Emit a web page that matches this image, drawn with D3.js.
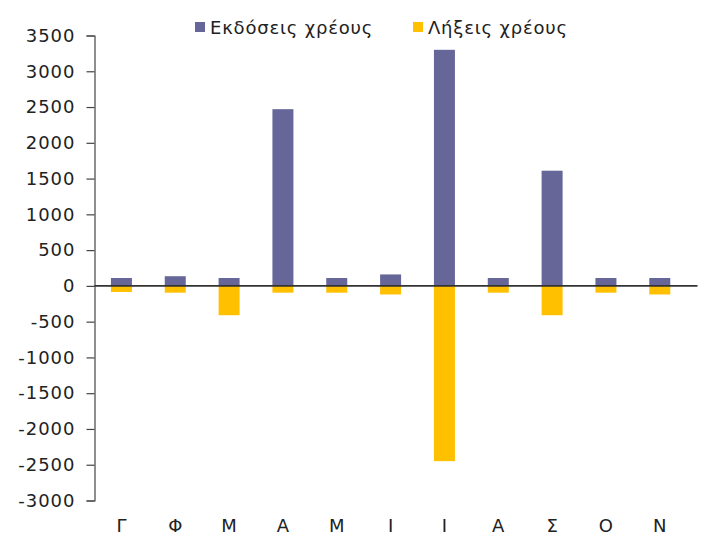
<!DOCTYPE html>
<html>
<head>
<meta charset="utf-8">
<script src="https://cdn.jsdelivr.net/npm/d3@7/dist/d3.min.js"></script>
<style>
html,body{margin:0;padding:0;background:#fff;}
svg{display:block;}
text{font-family:"DejaVu Sans",Verdana,sans-serif;}
</style>
</head>
<body>
<svg id="chart" width="705" height="537"></svg>
<script>
const categories = ["Γ","Φ","Μ","Α","Μ","Ι","Ι","Α","Σ","Ο","Ν"];
const issues = [110, 135, 110, 2470, 110, 160, 3300, 110, 1610, 110, 110];
const maturities = [-85, -95, -410, -95, -95, -120, -2450, -95, -410, -95, -120];
const yTicks = [3500,3000,2500,2000,1500,1000,500,0,-500,-1000,-1500,-2000,-2500,-3000];
const seriesNames = ["Εκδόσεις χρέους","Λήξεις χρέους"];
const seriesColors = ["#666699","#FFC000"];

const svg = d3.select("#chart");
const plotLeft = 94.5, plotRight = 686.7, plotTop = 35.5, plotBottom = 500.5;

const x = d3.scaleBand().domain(d3.range(categories.length)).range([plotLeft, plotRight]).paddingInner(0.61).paddingOuter(0.305);
const y = d3.scaleLinear().domain([-3000, 3500]).range([plotBottom, plotTop]);

// y axis
const yAxis = d3.axisLeft(y).tickValues(yTicks).tickSize(8).tickPadding(11).tickFormat(d => d.toString());
const gy = svg.append("g").attr("transform", `translate(${plotLeft},0)`).call(yAxis);
gy.select(".domain").attr("stroke", "#444").attr("stroke-width", 1.2);
gy.selectAll(".tick line").attr("stroke", "#444").attr("stroke-width", 1.2);
gy.selectAll(".tick text").attr("font-size", 18).attr("fill", "#222")
  .attr("letter-spacing", "1px")
  .attr("font-family", "'DejaVu Sans',Verdana,sans-serif");

const bw = 21;
const cx = i => x(i) + x.bandwidth()/2;

// maturities
svg.append("g").selectAll("rect").data(maturities).join("rect")
  .attr("x", (d,i) => cx(i) - bw/2)
  .attr("width", bw)
  .attr("y", y(0))
  .attr("height", d => y(d) - y(0))
  .attr("fill", seriesColors[1]);

// issues
svg.append("g").selectAll("rect").data(issues).join("rect")
  .attr("x", (d,i) => cx(i) - bw/2)
  .attr("width", bw)
  .attr("y", d => y(d))
  .attr("height", d => y(0) - y(d))
  .attr("fill", seriesColors[0]);

// zero line
svg.append("line").attr("x1", plotLeft).attr("x2", 697.5).attr("y1", y(0)).attr("y2", y(0))
  .attr("stroke", "#333").attr("stroke-width", 1.6);

// x labels
svg.append("g").selectAll("text").data(categories).join("text")
  .attr("x", (d,i) => cx(i))
  .attr("y", 532)
  .attr("text-anchor", "middle")
  .attr("font-size", 18)
  .attr("fill", "#222")
  .text(d => d);

// legend
const legendItems = [
  {name: seriesNames[0], color: seriesColors[0], sx: 195, tx: 210},
  {name: seriesNames[1], color: seriesColors[1], sx: 413, tx: 428}
];
const lg = svg.append("g");
legendItems.forEach(it => {
  lg.append("rect").attr("x", it.sx).attr("y", 22).attr("width", 10).attr("height", 10).attr("fill", it.color);
  lg.append("text").attr("x", it.tx).attr("y", 33.5).attr("font-size", 18).attr("letter-spacing", "0.8px")
    .attr("fill", "#222").text(it.name);
});
</script>
</body>
</html>
